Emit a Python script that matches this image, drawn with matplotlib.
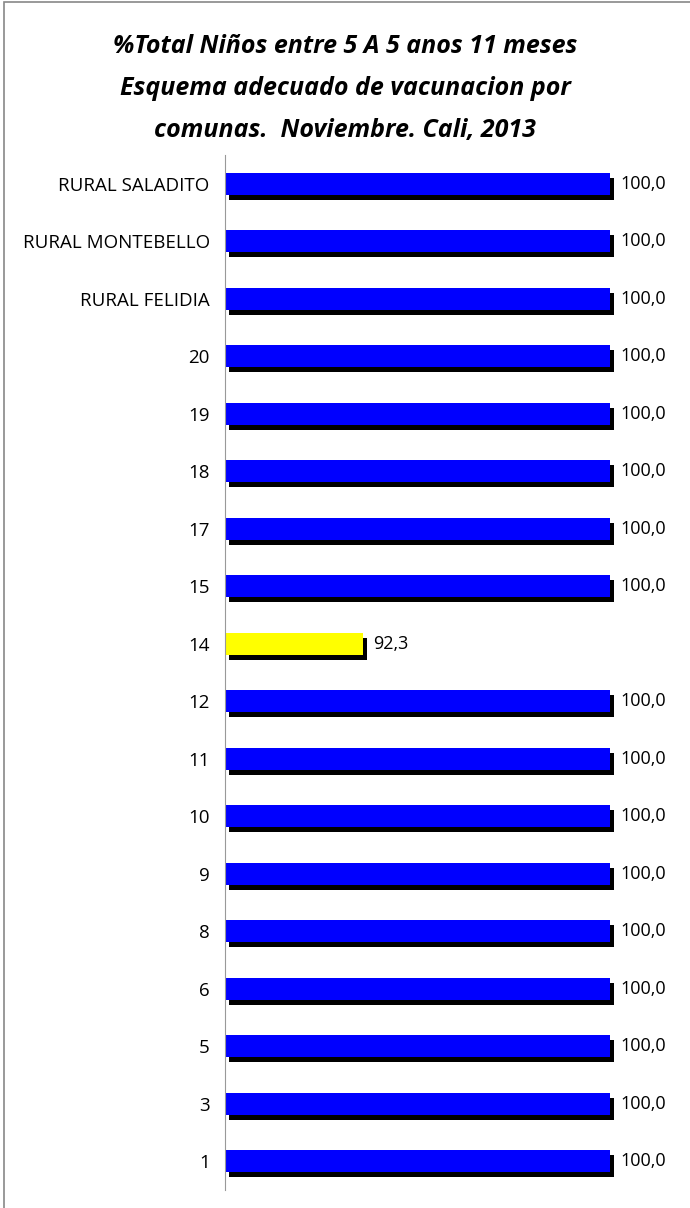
import matplotlib.pyplot as plt
import matplotlib.patheffects as pe
from matplotlib.patches import Rectangle

comunas = ['RURAL SALADITO', 'RURAL MONTEBELLO', 'RURAL FELIDIA', '20', '19', '18',
           '17', '15', '14', '12', '11', '10', '9', '8', '6', '5', '3', '1']
valores = [100.0, 100.0, 100.0, 100.0, 100.0, 100.0, 100.0, 100.0, 92.3,
           100.0, 100.0, 100.0, 100.0, 100.0, 100.0, 100.0, 100.0, 100.0]
colores = ['#0000FF' if v >= 95 else '#FFFF00' for v in valores]

plt.rcParams['font.family'] = ['Open Sans', 'DejaVu Sans']

fig = plt.figure(figsize=(6.9, 12.08), dpi=100)
fig.patches.append(Rectangle((0.006, -0.01), 1.1, 1.008, transform=fig.transFigure,
                             fill=False, edgecolor='#888888', linewidth=1.2))

ax = fig.add_axes([225 / 690, 1 - 1190 / 1208, 455 / 690, 1035 / 1208])
pos = list(range(len(comunas)))
bars = ax.barh(pos, [v - 88 for v in valores], left=88, height=0.38, color=colores,
               edgecolor='none')
for b in bars:
    b.set_path_effects([pe.SimplePatchShadow(offset=(3, -3.5), shadow_rgbFace='black', alpha=1),
                        pe.Normal()])
for p, v in zip(pos, valores):
    ax.text(v + 0.32, p, f'{v:.1f}'.replace('.', ','), va='center', ha='left', fontsize=13)

ax.set_xlim(88, 102.18)
ax.set_ylim(len(comunas) - 0.5, -0.5)
ax.set_yticks(pos)
ax.set_yticklabels(comunas, fontsize=13.5)
ax.tick_params(axis='y', length=0, pad=11)
ax.set_xticks([])
for s in ['top', 'right', 'bottom']:
    ax.spines[s].set_visible(False)
ax.spines['left'].set_color('#999999')

fig.text(0.5, 0.972, '%Total Niños entre 5 A 5 anos 11 meses\nEsquema adecuado de vacunacion por\ncomunas.  Noviembre. Cali, 2013',
         ha='center', va='top', fontsize=18, fontweight='bold', fontstyle='italic',
         linespacing=1.9)

fig.savefig('out.png', dpi=100, facecolor='white')
